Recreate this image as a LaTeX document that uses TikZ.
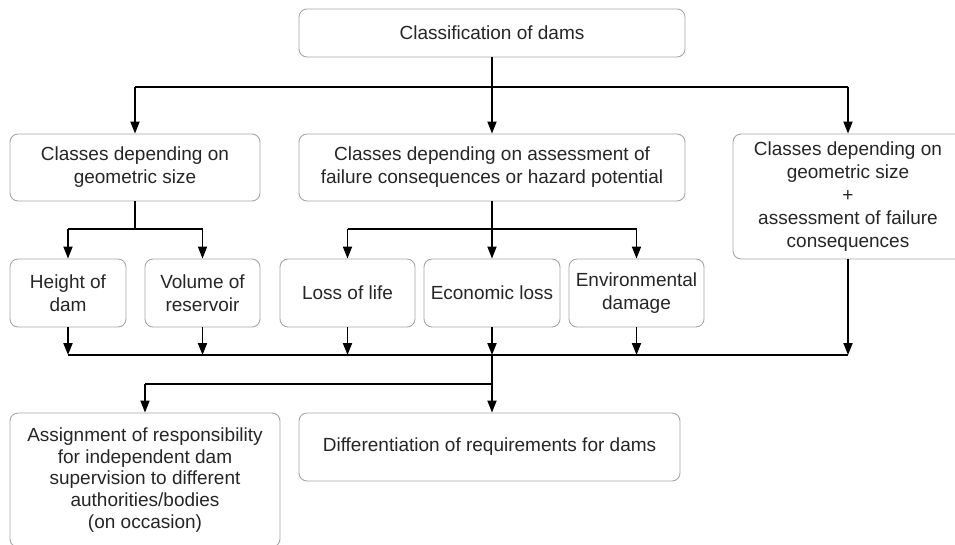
\documentclass[tikz,border=0pt]{standalone}
\usepackage{fontspec}
\setmainfont{Liberation Sans}
\usetikzlibrary{arrows.meta}
\begin{document}
\begin{tikzpicture}[x=1pt,y=-1pt,
  box/.style={draw=black!35, line width=0.9pt, rounded corners=8pt, fill=white,
    align=center, inner sep=0pt, text=black!85,
    font=\fontsize{19}{23}\selectfont},
  wire/.style={draw=black, line width=1.8pt},
  arr/.style={wire, -{Triangle[length=12pt,width=9pt]}}]
\useasboundingbox (0,0) rectangle (955,544);

% boxes
\node[box, minimum width=386, minimum height=48] (top) at (492,33) {Classification of dams};
\node[box, minimum width=250, minimum height=67] (geo) at (135,167.5) {Classes depending on\\geometric size};
\node[box, minimum width=386, minimum height=67] (haz) at (492,167.5) {Classes depending on assessment of\\failure consequences or hazard potential};
\node[box, minimum width=230, minimum height=125] (both) at (848,196.5) {Classes depending on\\geometric size\\+\\assessment of failure\\consequences};

\node[box, minimum width=116, minimum height=68] (hgt) at (68,293) {Height of\\dam};
\node[box, minimum width=115, minimum height=68] (vol) at (202.5,293) {Volume of\\reservoir};
\node[box, minimum width=135, minimum height=68] (life) at (347.5,293) {Loss of life};
\node[box, minimum width=136, minimum height=68] (econ) at (492,293) {Economic loss};
\node[box, minimum width=135, minimum height=68] (env) at (636.5,293) {Environmental\\damage};

\node[box, minimum width=270, minimum height=134, font=\fontsize{19}{21.7}\selectfont] (assign) at (145,480) {Assignment of responsibility\\for independent dam\\supervision to different\\authorities/bodies\\(on occasion)};
\node[box, minimum width=381, minimum height=68] (diff) at (489.5,447) {Differentiation of requirements for dams};

% bus lines
\coordinate (busA) at (0,87);
\coordinate (busB) at (0,229);
\coordinate (busC) at (0,355);
\coordinate (busD) at (0,384);

% top level
\draw[wire] (top.south) -- (top.south |- busA);
\draw[wire] (geo.north |- busA) -- (both.north |- busA);
\draw[arr] (geo.north |- busA) -- (geo.north);
\draw[arr] (haz.north |- busA) -- (haz.north);
\draw[arr] (both.north |- busA) -- (both.north);

% geometric size branch
\draw[wire] (geo.south) -- (geo.south |- busB);
\draw[wire] (hgt.north |- busB) -- (vol.north |- busB);
\draw[arr] (hgt.north |- busB) -- (hgt.north);
\draw[arr] (vol.north |- busB) -- (vol.north);

% hazard potential branch
\draw[wire] (haz.south) -- (haz.south |- busB);
\draw[wire] (life.north |- busB) -- (env.north |- busB);
\draw[arr] (life.north |- busB) -- (life.north);
\draw[arr] (econ.north |- busB) -- (econ.north);
\draw[arr] (env.north |- busB) -- (env.north);

% collecting line
\draw[wire] (hgt.south |- busC) -- (both.south |- busC);
\draw[arr] (hgt.south) -- (hgt.south |- busC);
\draw[arr] (vol.south) -- (vol.south |- busC);
\draw[arr] (life.south) -- (life.south |- busC);
\draw[arr] (econ.south) -- (econ.south |- busC);
\draw[arr] (env.south) -- (env.south |- busC);
\draw[arr] (both.south) -- (both.south |- busC);

% consequences
\draw[wire] (econ.south |- busC) -- (econ.south |- busD);
\draw[wire] (assign.north |- busD) -- (econ.south |- busD);
\draw[arr] (assign.north |- busD) -- (assign.north);
\draw[arr] (econ.south |- busD) -- (econ.south |- diff.north);
\end{tikzpicture}
\end{document}
